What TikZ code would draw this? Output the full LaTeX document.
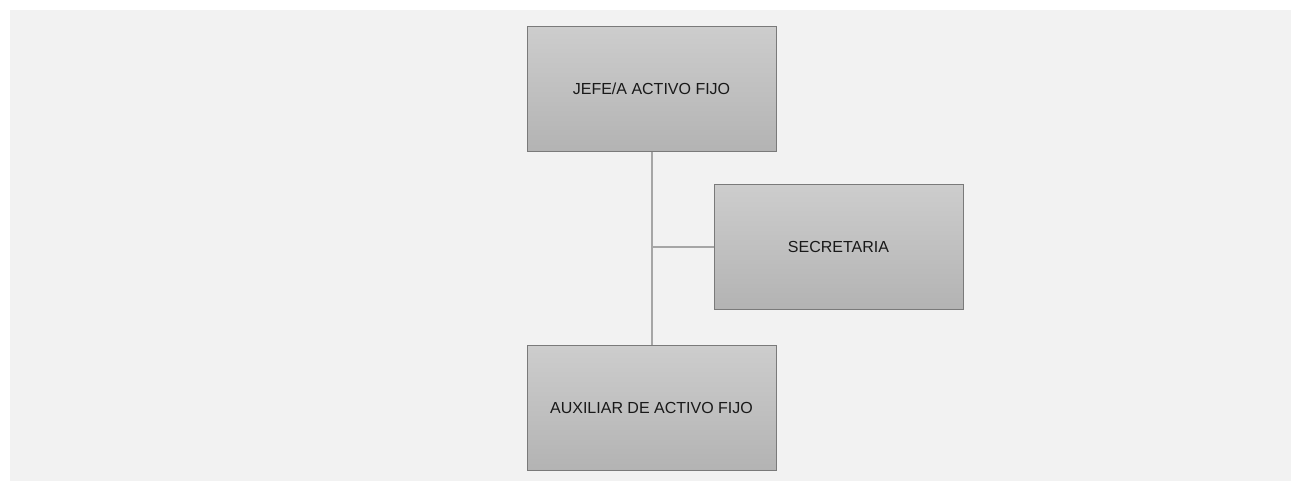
\documentclass[tikz,border=0pt]{standalone}
\usepackage{fontspec}
\setmainfont{Liberation Sans}
\begin{document}
\begin{tikzpicture}[x=1pt,y=-1pt,
  box/.style={draw=boxborder,line width=1pt,top color=boxtop,bottom color=boxbot,
    minimum width=249pt,minimum height=125pt,inner sep=0pt,font=\fontsize{16}{19}\selectfont,text=black!90},
  conn/.style={draw=conncol,line width=2pt}]
\definecolor{boxborder}{HTML}{7A7A7A}
\definecolor{boxtop}{HTML}{CDCDCD}
\definecolor{boxbot}{HTML}{B3B3B3}
\definecolor{conncol}{HTML}{A6A6A6}
\definecolor{panel}{HTML}{F2F2F2}
\useasboundingbox (0,0) rectangle (1291,481);
\fill[white] (0,0) rectangle (1291,481);
\fill[panel] (10,10) rectangle (1291,481);
\node[box] (jefe) at (651.5,89) {JEFE/A ACTIVO FIJO};
\node[box] (sec) at (838.5,247) {SECRETARIA};
\node[box] (aux) at (651.5,408) {AUXILIAR DE ACTIVO FIJO};
\coordinate (j) at (651.5,247);
\draw[conn] (jefe.south) -- (aux.north);
\draw[conn] (j) -- (sec.west);
\end{tikzpicture}
\end{document}
